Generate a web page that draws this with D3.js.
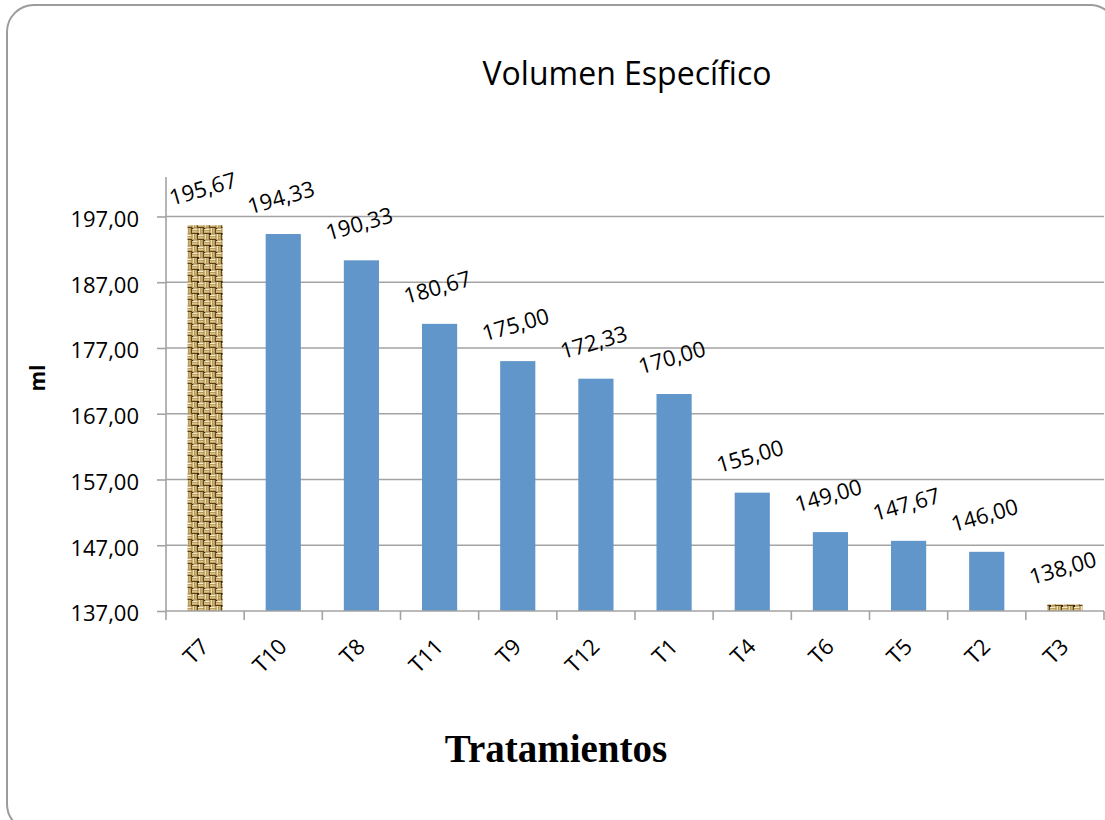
<!DOCTYPE html>
<html>
<head>
<meta charset="utf-8">
<script src="https://cdn.jsdelivr.net/npm/d3@7"></script>
<style>
  html, body { margin: 0; padding: 0; background: #ffffff; }
  svg { display: block; }
</style>
</head>
<body>
<svg id="chart" width="1105" height="820"></svg>
<script>
// Treatments sorted by specific volume (ml)
const categories = ["T7", "T10", "T8", "T11", "T9", "T12", "T1", "T4", "T6", "T5", "T2", "T3"];
const values = [195.67, 194.33, 190.33, 180.67, 175.00, 172.33, 170.00, 155.00, 149.00, 147.67, 146.00, 138.00];
const yTicks = [137, 147, 157, 167, 177, 187, 197];
// Highest and lowest treatments are drawn with the woven fill
const highlighted = ["T7", "T3"];

const titleText = "Volumen Específico";
const yTitle = "ml";
const xTitle = "Tratamientos";

const svg = d3.select("#chart");
const plot = { left: 166, right: 1104, top: 177, bottom: 611 };

const x = d3.scaleBand().domain(categories).range([plot.left, plot.right]).paddingInner(0.55).paddingOuter(0.275);
const xEdge = d3.scaleBand().domain(categories).range([plot.left, plot.right]).padding(0);
const y = d3.scaleLinear().domain([137, 203]).range([plot.bottom, plot.top]);

const fmt = v => d3.format(".2f")(v).replace(".", ",");
const sans = "'Open Sans', 'Noto Sans', sans-serif";

// Woven burlap texture (basket weave tile)
const defs = svg.append("defs");
const T = 12, h = T / 2;
const pat = defs.append("pattern")
  .attr("id", "weave").attr("patternUnits", "userSpaceOnUse")
  .attr("width", T).attr("height", T);
pat.append("rect").attr("width", T).attr("height", T).attr("fill", "#a88a4e");
// horizontal threads
[[0, 0], [h, h]].forEach(([ox, oy]) => {
  pat.append("rect").attr("x", ox).attr("y", oy + 0.6).attr("width", h - 0.6).attr("height", 1.6).attr("fill", "#f6ebc6");
  pat.append("rect").attr("x", ox).attr("y", oy + 3.0).attr("width", h - 0.6).attr("height", 1.5).attr("fill", "#dcc386");
  pat.append("rect").attr("x", ox).attr("y", oy + 5.0).attr("width", h).attr("height", 1.0).attr("fill", "#5a4016");
});
// vertical threads
[[h, 0], [0, h]].forEach(([ox, oy]) => {
  pat.append("rect").attr("x", ox + 0.6).attr("y", oy).attr("width", 1.6).attr("height", h - 0.6).attr("fill", "#efe0ae");
  pat.append("rect").attr("x", ox + 3.0).attr("y", oy).attr("width", 1.5).attr("height", h - 0.6).attr("fill", "#cfb373");
  pat.append("rect").attr("x", ox + 5.0).attr("y", oy).attr("width", 1.0).attr("height", h).attr("fill", "#64481c");
});
pat.append("rect").attr("x", h - 1).attr("y", h - 1).attr("width", 2).attr("height", 2).attr("fill", "#3a280e");
pat.append("rect").attr("x", 0).attr("y", 0).attr("width", 1.2).attr("height", 1.2).attr("fill", "#45310f");

// Chart frame
svg.append("rect")
  .attr("x", 7).attr("y", 5).attr("width", 1110).attr("height", 826)
  .attr("rx", 27).attr("ry", 27)
  .attr("fill", "#ffffff").attr("stroke", "#9c9c9c").attr("stroke-width", 2);

// Horizontal gridlines
svg.append("g").selectAll("line").data(yTicks.slice(1)).join("line")
  .attr("x1", plot.left).attr("x2", plot.right)
  .attr("y1", d => y(d)).attr("y2", d => y(d))
  .attr("stroke", "#a3a3a3").attr("stroke-width", 1.6);

// Bars
svg.append("g").selectAll("rect").data(categories).join("rect")
  .attr("x", d => x(d))
  .attr("width", x.bandwidth())
  .attr("y", (d, i) => y(values[i]))
  .attr("height", (d, i) => y(137) - y(values[i]))
  .attr("fill", d => highlighted.includes(d) ? "url(#weave)" : "#6196cb");

// Y axis
const yAxis = svg.append("g").attr("transform", `translate(${plot.left},0)`)
  .call(d3.axisLeft(y).tickValues(yTicks).tickFormat(fmt).tickSize(9).tickPadding(18));
yAxis.select(".domain").attr("stroke", "#a3a3a3").attr("stroke-width", 1.6)
  .attr("d", `M0,${plot.top}V${plot.bottom}`);
yAxis.selectAll(".tick line").attr("stroke", "#a3a3a3").attr("stroke-width", 1.6);
yAxis.selectAll(".tick text").attr("font-family", sans).attr("font-size", 22)
  .attr("fill", "#000").attr("dy", "0.45em");

// X axis
const xAxis = svg.append("g").attr("transform", `translate(0,${plot.bottom})`);
xAxis.append("line").attr("x1", plot.left).attr("x2", plot.right)
  .attr("stroke", "#a3a3a3").attr("stroke-width", 1.6);
const edges = categories.map(c => xEdge(c)).concat([plot.right]);
xAxis.selectAll("line.tk").data(edges).join("line").attr("class", "tk")
  .attr("x1", d => d).attr("x2", d => d).attr("y1", 0).attr("y2", 9)
  .attr("stroke", "#a3a3a3").attr("stroke-width", 1.6);
xAxis.selectAll("text").data(categories).join("text")
  .attr("transform", d => `translate(${x(d) + x.bandwidth() / 2 + 5},${37}) rotate(-45)`)
  .attr("text-anchor", "end")
  .attr("font-family", sans).attr("font-size", 22).attr("fill", "#000")
  .text(d => d);

// Value labels
svg.append("g").selectAll("text").data(categories).join("text")
  .attr("transform", (d, i) => `translate(${x(d) + x.bandwidth() / 2},${y(values[i]) - 29}) rotate(-16)`)
  .attr("text-anchor", "middle")
  .attr("font-family", sans).attr("font-size", 22).attr("fill", "#000")
  .text((d, i) => fmt(values[i]));

// Titles
svg.append("text").attr("x", 627).attr("y", 85).attr("text-anchor", "middle")
  .attr("font-family", sans).attr("font-size", 32).attr("fill", "#000")
  .text(titleText);
svg.append("text").attr("transform", "translate(45,378) rotate(-90)").attr("text-anchor", "middle")
  .attr("font-family", sans).attr("font-size", 21).attr("font-weight", "bold").attr("fill", "#000")
  .text(yTitle);
svg.append("text").attr("x", 556).attr("y", 762).attr("text-anchor", "middle")
  .attr("font-family", "'Liberation Serif', 'Times New Roman', serif").attr("font-size", 39)
  .attr("font-weight", "bold").attr("fill", "#000")
  .text(xTitle);
</script>
</body>
</html>
